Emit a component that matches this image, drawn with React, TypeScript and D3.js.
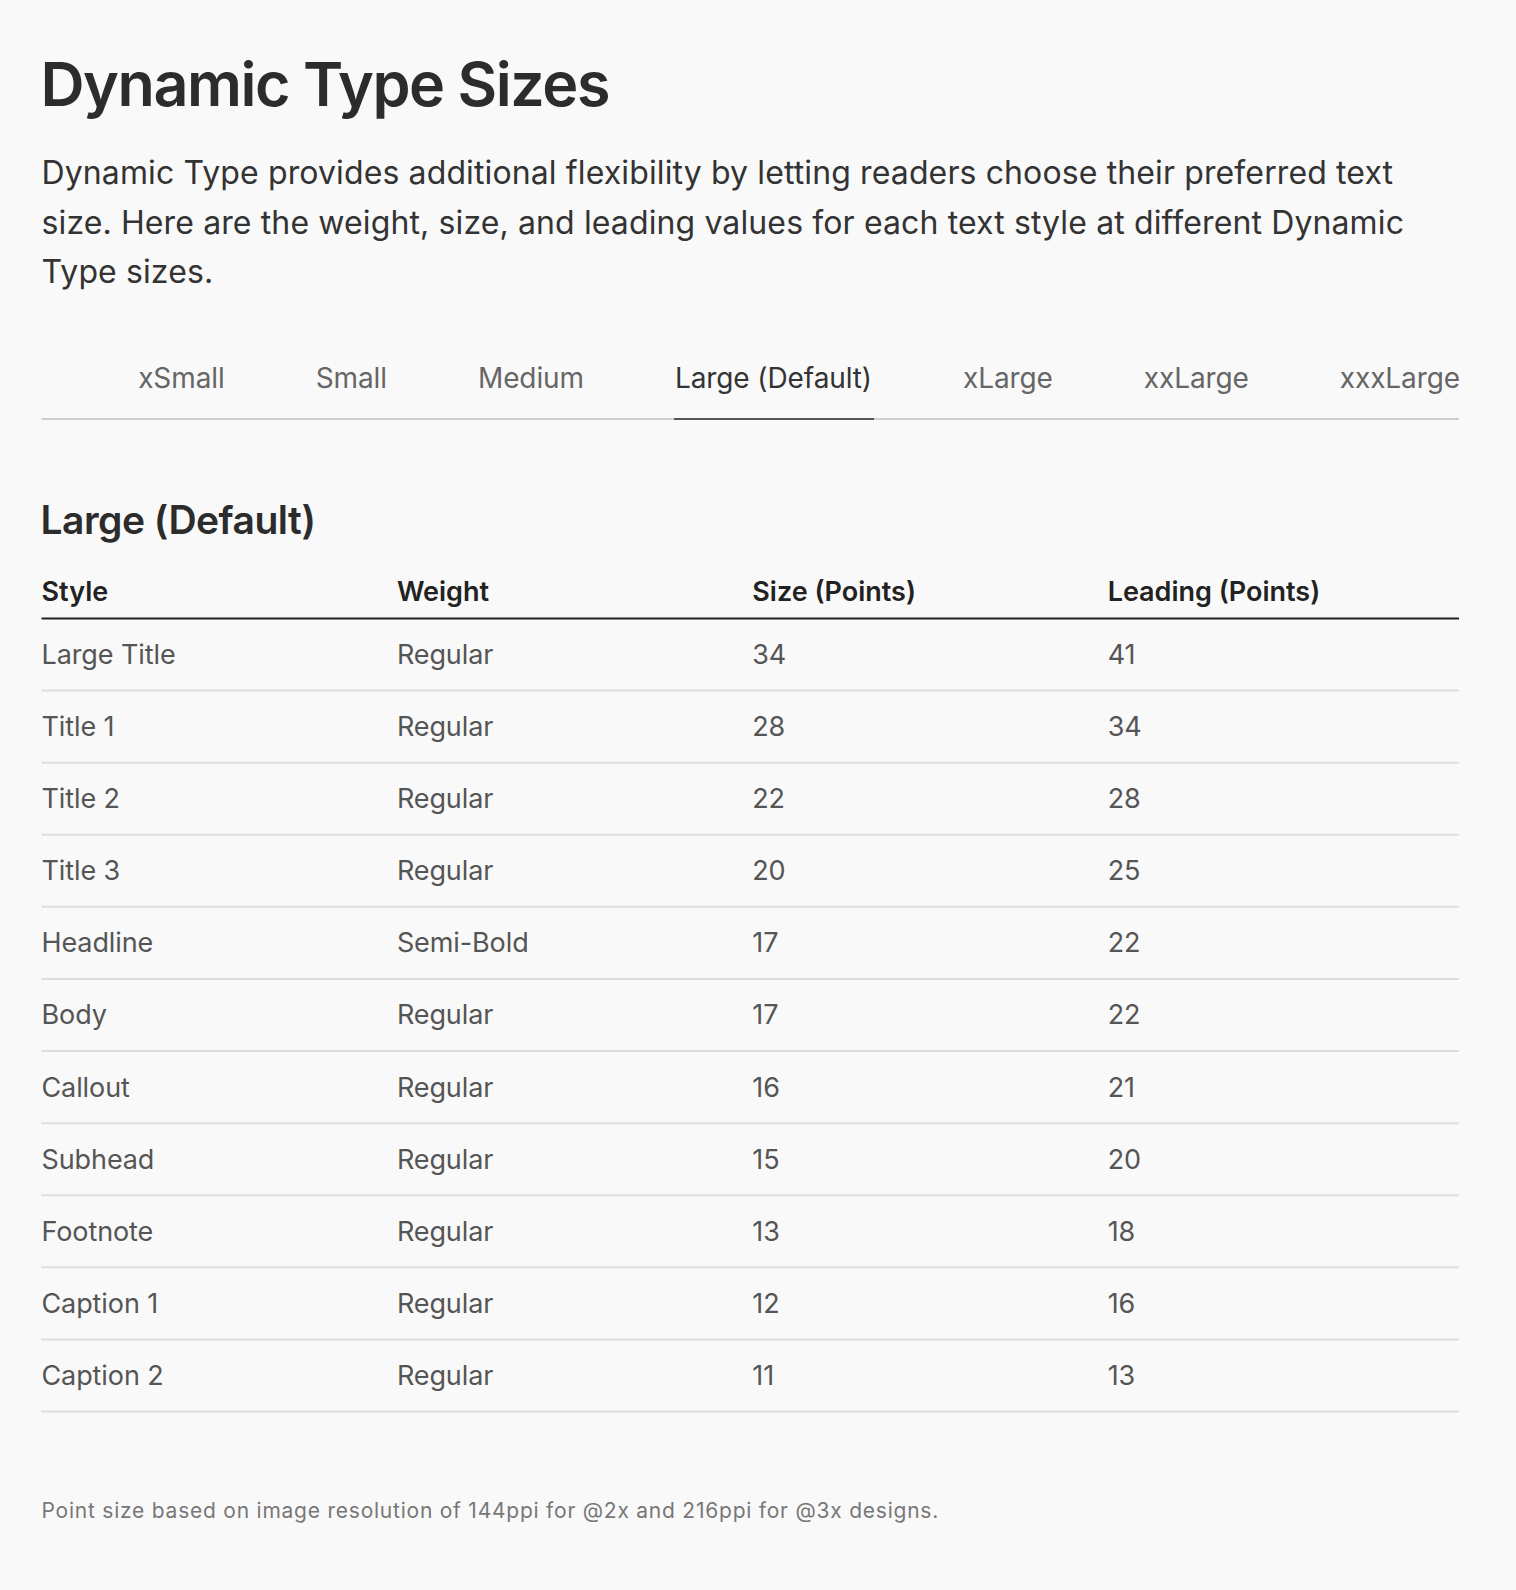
import React, { useEffect, useRef } from 'react';
import * as d3 from 'd3';

const title = 'Dynamic Type Sizes';
const introLines = [
  'Dynamic Type provides additional flexibility by letting readers choose their preferred text',
  'size. Here are the weight, size, and leading values for each text style at different Dynamic',
  'Type sizes.',
];
const tabs = ['xSmall', 'Small', 'Medium', 'Large (Default)', 'xLarge', 'xxLarge', 'xxxLarge'];
const activeTab = 'Large (Default)';
const columns = ['Style', 'Weight', 'Size (Points)', 'Leading (Points)'];
const styles = [
  'Large Title', 'Title 1', 'Title 2', 'Title 3', 'Headline', 'Body',
  'Callout', 'Subhead', 'Footnote', 'Caption 1', 'Caption 2',
];
const weights = [
  'Regular', 'Regular', 'Regular', 'Regular', 'Semi-Bold', 'Regular',
  'Regular', 'Regular', 'Regular', 'Regular', 'Regular',
];
const sizes = [34, 28, 22, 20, 17, 17, 16, 15, 13, 12, 11];
const leadings = [41, 34, 28, 25, 22, 22, 21, 20, 18, 16, 13];
const footnote = 'Point size based on image resolution of 144ppi for @2x and 216ppi for @3x designs.';

const width = 1516;
const height = 1590;
const left = 41.5;
const right = 1459;
const font = 'Inter, "Noto Sans", sans-serif';

export default function App() {
  const ref = useRef<SVGSVGElement>(null);

  useEffect(() => {
    document.body.style.margin = '0';
    document.body.style.background = '#f9f9f9';
    const svg = d3.select(ref.current);
    svg.selectAll('*').remove();

    svg.append('rect').attr('width', width).attr('height', height).attr('fill', '#f9f9f9');

    // heading + intro
    svg.append('text')
      .attr('x', left - 1).attr('y', 106)
      .attr('font-size', 61).attr('font-weight', 600)
      .attr('letter-spacing', -1.45)
      .attr('fill', '#2c2c2c')
      .text(title);

    svg.selectAll('text.intro')
      .data(introLines)
      .enter()
      .append('text')
      .attr('class', 'intro')
      .attr('x', left)
      .attr('y', (d, i) => 184 + i * 49.7)
      .attr('font-size', 32)
      .attr('letter-spacing', 0.12)
      .attr('fill', '#333')
      .text((d) => d);

    // tabs, laid out right to left with an even gap
    const tabY = 388;
    const gap = 91;
    const tabText = svg.selectAll('text.tab')
      .data(tabs)
      .enter()
      .append('text')
      .attr('class', 'tab')
      .attr('y', tabY)
      .attr('font-size', 28)
      .attr('letter-spacing', -0.1)
      .attr('fill', (d) => (d === activeTab ? '#333' : '#666'))
      .text((d) => d);

    const widths: number[] = [];
    tabText.each(function () {
      widths.push((this as SVGTextElement).getComputedTextLength());
    });
    const xs: number[] = [];
    let cursor = right + 1;
    for (let i = tabs.length - 1; i >= 0; i--) {
      cursor -= widths[i];
      xs[i] = cursor;
      cursor -= gap;
    }
    tabText.attr('x', (d, i) => xs[i]);

    svg.append('line')
      .attr('x1', left).attr('x2', right)
      .attr('y1', 419).attr('y2', 419)
      .attr('stroke', '#cfcfcf').attr('stroke-width', 2);

    const ai = tabs.indexOf(activeTab);
    svg.append('line')
      .attr('x1', xs[ai] - 1).attr('x2', xs[ai] + widths[ai] + 2)
      .attr('y1', 419).attr('y2', 419)
      .attr('stroke', '#555').attr('stroke-width', 2);

    // section heading
    svg.append('text')
      .attr('x', left - 1).attr('y', 534)
      .attr('font-size', 39).attr('font-weight', 600)
      .attr('letter-spacing', -0.5)
      .attr('fill', '#2c2c2c')
      .text(activeTab);

    // table
    const x = d3.scaleBand<string>().domain(columns).range([left, 1463]);
    const headerLine = 618.5;
    const y = d3.scaleBand<string>().domain(styles).range([headerLine, 1411.5]);

    svg.selectAll('text.col')
      .data(columns)
      .enter()
      .append('text')
      .attr('class', 'col')
      .attr('x', (d) => x(d) as number)
      .attr('y', 601)
      .attr('font-size', 27).attr('font-weight', 600)
      .attr('fill', '#222')
      .text((d) => d);

    svg.append('line')
      .attr('x1', left).attr('x2', right)
      .attr('y1', headerLine).attr('y2', headerLine)
      .attr('stroke', '#222').attr('stroke-width', 2);

    const rows = styles.map((s, i) => [s, weights[i], String(sizes[i]), String(leadings[i])]);

    const rowG = svg.selectAll('g.row')
      .data(rows)
      .enter()
      .append('g')
      .attr('class', 'row')
      .attr('transform', (d) => `translate(0,${y(d[0])})`);

    rowG.selectAll('text')
      .data((d) => d)
      .enter()
      .append('text')
      .attr('x', (d, i) => x(columns[i]) as number)
      .attr('y', y.bandwidth() / 2)
      .attr('dy', '0.35em')
      .attr('font-size', 27)
      .attr('letter-spacing', -0.1)
      .attr('fill', '#555')
      .text((d) => d);

    rowG.append('line')
      .attr('x1', left).attr('x2', right)
      .attr('y1', y.bandwidth()).attr('y2', y.bandwidth())
      .attr('stroke', '#dedede').attr('stroke-width', 2);

    svg.append('text')
      .attr('x', left).attr('y', 1518)
      .attr('font-size', 21)
      .attr('letter-spacing', 0.77)
      .attr('fill', '#777')
      .text(footnote);
  }, []);

  return (
    <svg
      ref={ref}
      width={width}
      height={height}
      style={{ display: 'block', fontFamily: font }}
    />
  );
}
